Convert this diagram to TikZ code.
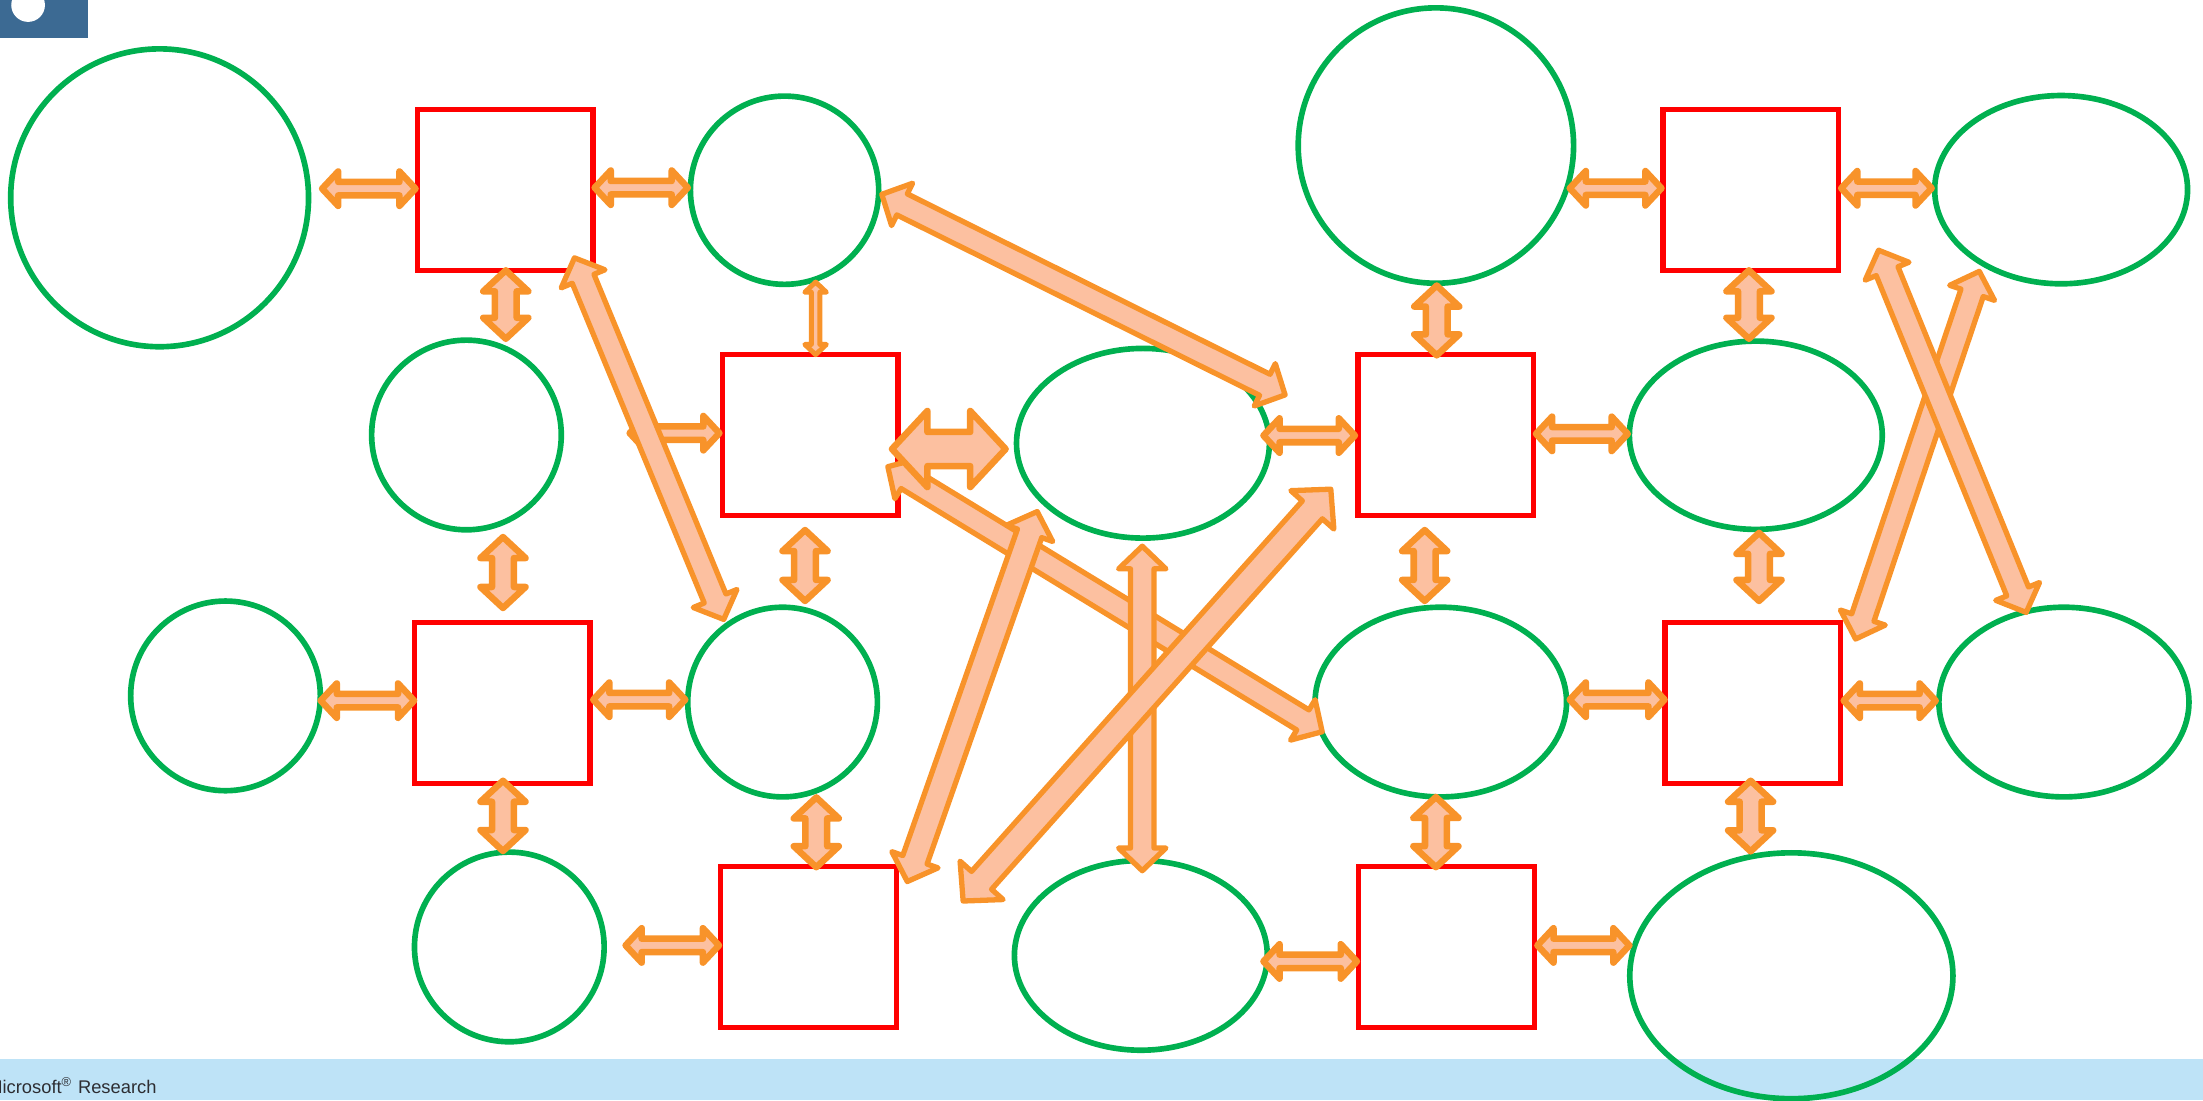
\documentclass[tikz,border=0pt]{standalone}
\usepackage{fontspec}
\newfontfamily\msfont{Liberation Sans}
\usetikzlibrary{shapes.geometric,calc}
\newcommand\pxu{0.014cm}
\definecolor{cgreen}{RGB}{0,176,80}
\definecolor{cred}{RGB}{255,0,0}
\definecolor{aorange}{RGB}{248,147,42}
\definecolor{afill}{RGB}{252,192,160}
\definecolor{logoblue}{RGB}{60,106,147}
\definecolor{barblue}{RGB}{190,227,247}
\definecolor{msgray}{RGB}{45,45,50}
\tikzset{
  gc/.style={circle, draw=cgreen, line width=1.6pt, inner sep=0pt, outer sep=0pt},
  ge/.style={ellipse, draw=cgreen, line width=1.6pt, inner sep=0pt, outer sep=0pt},
  rb/.style={rectangle, draw=cred, line width=1.5pt, inner sep=0pt, outer sep=0pt,
    minimum width=125*\pxu, minimum height=114.5*\pxu},
  arr/.style={draw=aorange, fill=afill, line join=round}
}
% #1 extra style, #2 from, #3 to, #4 half shaft, #5 half head, #6 head length (px units)
\newcommand\fatarrow[6]{%
  \path (#2); \pgfgetlastxy{\fax}{\fay}%
  \path (#3); \pgfgetlastxy{\fbx}{\fby}%
  \pgfmathsetmacro\faang{atan2(\fby-\fay,\fbx-\fax)}%
  \pgfmathsetmacro\falen{veclen(\fbx-\fax,\fby-\fay)-0.9}%
  \pgfmathsetmacro\fas{#4*0.39685}%
  \pgfmathsetmacro\fah{#5*0.39685}%
  \pgfmathsetmacro\fal{#6*0.39685}%
  \begin{scope}[shift={(\fax,\fay)}, rotate=\faang, x=1pt, y=1pt]
    \draw[arr, #1] (0.9,0) -- (0.9+\fal,\fah) -- (0.9+\fal,\fas) -- (\falen-\fal,\fas)
      -- (\falen-\fal,\fah) -- (\falen,0) -- (\falen-\fal,-\fah) -- (\falen-\fal,-\fas)
      -- (0.9+\fal,-\fas) -- (0.9+\fal,-\fah) -- cycle;
  \end{scope}%
}
\newcommand\harrow[2]{\fatarrow{line width=1.85pt}{#1}{#2}{4.8}{12.3}{11.5}}
\newcommand\varrow[2]{\fatarrow{line width=1.85pt}{#1}{#2}{7.8}{16.1}{15}}
\newcommand\tarrow[2]{\fatarrow{line width=1.4pt}{#1}{#2}{3}{7.7}{7.3}}
\newcommand\barrow[2]{\fatarrow{line width=1.85pt}{#1}{#2}{12.2}{27.2}{25.3}}
\newcommand\larrow[2]{\fatarrow{line width=1.5pt}{#1}{#2}{8.4}{16.9}{16.2}}
\newcommand\warrow[2]{\fatarrow{line width=1.5pt}{#1}{#2}{9.6}{20.6}{19.8}}
\begin{document}
\begin{tikzpicture}[x=\pxu, y=-\pxu]
\useasboundingbox (0,0) rectangle (1568,783);
\clip (0,0) rectangle (1568,783);
% background bar and logo
\fill[barblue] (0,754) rectangle (1568,783);
\fill[logoblue] (0,0) rectangle (62.4,27);
\fill[white] (20,3.6) circle[radius=0.168cm];
\node[anchor=base west, inner sep=0pt, font=\msfont\fontsize{5.2}{6}\selectfont, text=msgray] (ms) at (-9.5,778.6) {Microsoft\textsuperscript{®} Research};
% nodes
\node[gc, minimum size=212*\pxu] (C1) at (113.6,140.8) {};
\node[rb] (R1) at (359.5,135.4) {};
\node[gc, minimum size=134*\pxu] (C2) at (558.4,135.4) {};
\node[gc, minimum size=196*\pxu] (C3) at (1022,103.6) {};
\node[rb] (R2) at (1246.2,135.4) {};
\node[ge, minimum width=180*\pxu, minimum height=134*\pxu] (E1) at (1467,135) {};
\node[gc, minimum size=135*\pxu] (C4) at (332,309.6) {};
\node[rb] (R3) at (576.7,309.6) {};
\node[ge, minimum width=180*\pxu, minimum height=135*\pxu] (E2) at (813.5,315.5) {};
\node[rb] (R4) at (1029.1,309.8) {};
\node[ge, minimum width=180*\pxu, minimum height=134*\pxu] (E3) at (1249.7,309.8) {};
\node[gc, minimum size=135*\pxu] (C5) at (160.5,495.3) {};
\node[rb] (R5) at (357.5,500.2) {};
\node[gc, minimum size=135*\pxu] (C6) at (557,499.7) {};
\node[ge, minimum width=179*\pxu, minimum height=135*\pxu] (E4) at (1025.5,499.7) {};
\node[rb] (R6) at (1247.5,500.2) {};
\node[ge, minimum width=178*\pxu, minimum height=135*\pxu] (E5) at (1469,499.7) {};
\node[gc, minimum size=135*\pxu] (C7) at (362.5,674) {};
\node[rb] (R7) at (575.5,674.2) {};
\node[ge, minimum width=180*\pxu, minimum height=135*\pxu] (E6) at (812,680) {};
\node[rb] (R8) at (1029.5,674.2) {};
\node[ge, minimum width=230*\pxu, minimum height=175*\pxu] (E7) at (1275,694.5) {};
% small horizontal arrows
\harrow{$(C1.east)+(7.4,-6.5)$}{$(R1.west)+(1,-1.1)$}
\harrow{$(R1.east)+(-1,-1.8)$}{$(C2.west)+(0.4,-1.8)$}
\harrow{$(C5.east)+(-2,3.4)$}{$(R5.west)+(2,-1.5)$}
\harrow{$(R5.east)+(0,-2.2)$}{$(C6.west)+(0.5,-1.7)$}
\harrow{$(C7.east)+(13,-1.1)$}{$(R7.west)+(1,-1.3)$}
\harrow{$(C3.east)+(-5,30.4)$}{$(R2.west)+(1.1,-1.4)$}
\harrow{$(R2.east)+(-0.5,-1.4)$}{$(E1.west)+(0.1,-1)$}
\harrow{$(E2.east)+(-6.5,-5.5)$}{$(R4.west)+(0,0.2)$}
\harrow{$(R4.east)+(-0.6,-1)$}{$(E3.west)+(1.1,-1)$}
\harrow{$(E4.east)+(0,-1.7)$}{$(R6.west)+(2,-2.2)$}
\harrow{$(R6.east)+(0,-1.5)$}{$(E5.west)+(0,-1)$}
\harrow{$(E6.east)+(-5,4.3)$}{$(R8.west)+(1,10.1)$}
\harrow{$(R8.east)+(0,-1.3)$}{$(E7.west)+(2,-21.6)$}
% small vertical arrows
\varrow{$(R1.south)+(0.5,-2.5)$}{$(C4.north)+(28,1.3)$}
\varrow{$(C4.south)+(26,2.9)$}{$(R5.north)+(0.5,-7.95)$}
\varrow{$(R3.south)+(-3.7,8.15)$}{$(C6.north)+(16,-2.2)$}
\varrow{$(R5.south)+(0.5,-4)$}{$(C7.north)+(-4.5,1.5)$}
\varrow{$(C6.south)+(24,-1.9)$}{$(R7.north)+(5.5,2.55)$}
\varrow{$(C3.south)+(0.6,-0.6)$}{$(R4.north)+(-6.5,2.65)$}
\varrow{$(R2.south)+(-1.4,-2.5)$}{$(E3.north)+(-4.9,0.6)$}
\varrow{$(R4.south)+(-15.1,7.95)$}{$(E4.north)+(-11.5,-2.2)$}
\varrow{$(E3.south)+(2.3,0.2)$}{$(R6.north)+(4.5,-12.95)$}
\varrow{$(E4.south)+(-3.5,-2.2)$}{$(R8.north)+(-7.5,2.55)$}
\varrow{$(R6.south)+(-1.5,-4)$}{$(E7.north)+(-29,1.2)$}
\tarrow{$(C2.south)+(22.1,-3.9)$}{$(R3.north)+(3.8,2.35)$}
% arrows that cross
\harrow{$(C4.east)+(46.4,-1.3)$}{$(R3.west)+(0.1,-1.3)$}
\larrow{$(R1.south east)+(-14,-11.2)$}{$(C6.north)+(-41,10.8)$}
\larrow{$(C2.east)+(0.2,1.9)$}{$(R4.north west)+(-49.9,29.55)$}
\larrow{$(R3.east)+(-9.2,21.4)$}{$(E4.west)+(7,22.3)$}
\barrow{$(R3.east)+(-6.6,10)$}{$(E2.west)+(-5.5,4.1)$}
\fatarrow{line width=1.5pt}{$(E2.south)+(-74.5,-21)$}{$(R7.north east)+(7,12.65)$}{9.2}{17.5}{16.5}
\larrow{$(E2.south)+(-0.5,3.5)$}{$(E6.north)+(1,9.5)$}
\warrow{$(R4.west)+(-17.9,36.7)$}{$(R7.east)+(46,-31.2)$}
\larrow{$(E1.south)+(-57.5,-11)$}{$(R6.north east)+(10,14.05)$}
\larrow{$(R2.east)+(27.5,40.6)$}{$(E5.north)+(-26,5.8)$}
\end{tikzpicture}
\end{document}
